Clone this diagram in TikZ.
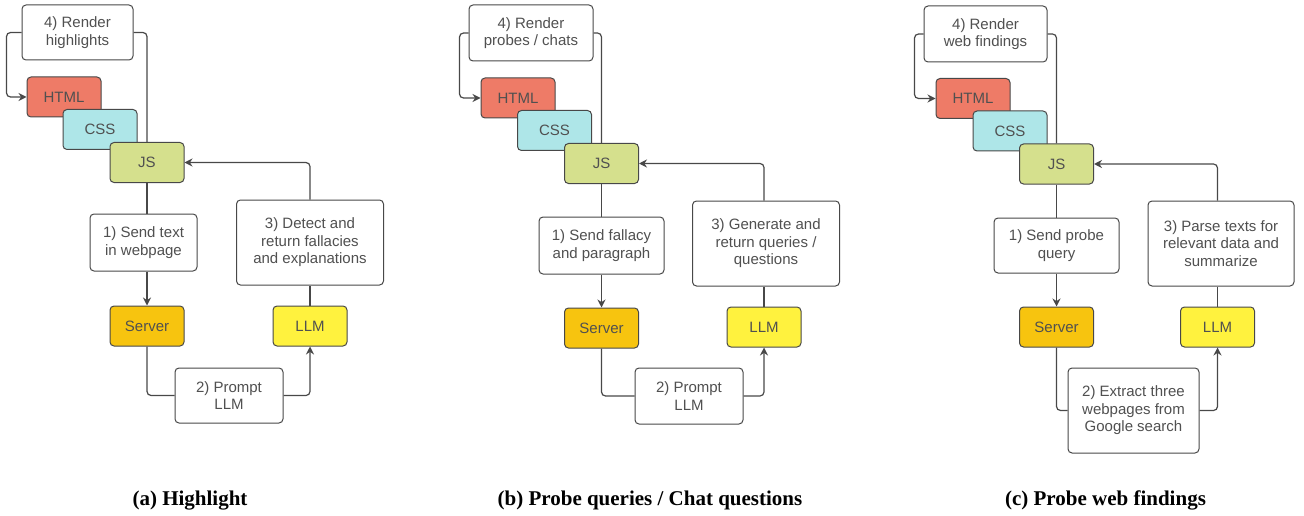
\documentclass[tikz,border=0pt]{standalone}
\usepackage{fontspec}
\setmainfont{Liberation Serif}
\newfontfamily\boxfont{Liberation Sans}
\usepackage{tikz}
\usepackage{xcolor}
\usetikzlibrary{arrows.meta, positioning}

\definecolor{htmlred}{HTML}{EE7B67}
\definecolor{cssblue}{HTML}{AEE6E8}
\definecolor{jsgreen}{HTML}{D5E08D}
\definecolor{serverorange}{HTML}{F7C40F}
\definecolor{llmyellow}{HTML}{FFF23E}
\definecolor{edgegray}{HTML}{484848}
\definecolor{textgray}{HTML}{505050}

\tikzset{
  box/.style={draw=edgegray, line width=1pt, rounded corners=4pt, fill=white, align=center, inner sep=0pt,
    font=\boxfont\fontsize{15}{17.5}\selectfont, text=textgray},
  tech/.style={box, minimum width=74pt, minimum height=40pt},
  link/.style={draw=edgegray, line width=1.2pt, rounded corners=4pt},
  arr/.style={link, -{Stealth[length=8pt, width=8pt]}},
  caption/.style={font=\fontsize{21}{25}\selectfont\bfseries, text=black, anchor=base}
}

\begin{document}
\begin{tikzpicture}[x=1pt, y=-1pt]
  \useasboundingbox (0,0) rectangle (1304,516);

  % (a) Highlight
  \node[box, minimum width=111pt, minimum height=55pt] (renderA) at (77.5, 32.5) {4) Render\\highlights};
  \node[tech, fill=htmlred] (htmlA) at (64, 97) {HTML};
  \node[tech, fill=cssblue] (cssA) at (100, 129.5) {CSS};
  \node[tech, fill=jsgreen] (jsA) at (147, 162.5) {JS};
  \node[box, minimum width=107pt, minimum height=57pt] (sendA) at (143.5, 242.5) {1) Send text\\in webpage};
  \node[tech, fill=serverorange] (serverA) at (147, 326) {Server};
  \node[box, minimum width=147pt, minimum height=85pt] (detectA) at (310, 242.5) {3) Detect and\\return fallacies\\and explanations};
  \node[tech, fill=llmyellow] (llmA) at (310, 326) {LLM};
  \node[box, minimum width=108pt, minimum height=55pt] (promptA) at (229, 395.5) {2) Prompt\\LLM};

  \draw[link] (jsA.north) |- (renderA.east);
  \draw[arr] (renderA.west) -- ++(-15,0) |- (htmlA.west);
  \draw[link] (jsA.south) -- (jsA.south |- sendA.north);
  \draw[arr] (sendA.south -| serverA.north) -- (serverA.north);
  \draw[link] (serverA.south) |- (promptA.west);
  \draw[arr] (promptA.east) -| (llmA.south);
  \draw[link] (llmA.north) -- (llmA.north |- detectA.south);
  \draw[arr] (detectA.north -| llmA.north) |- (jsA.east);

  % (b) Probe queries / Chat questions
  \node[box, minimum width=124pt, minimum height=56pt] (renderB) at (531, 33) {4) Render\\probes / chats};
  \node[tech, fill=htmlred] (htmlB) at (518, 98) {HTML};
  \node[tech, fill=cssblue] (cssB) at (554.5, 130.5) {CSS};
  \node[tech, fill=jsgreen] (jsB) at (601.5, 163.5) {JS};
  \node[box, minimum width=125pt, minimum height=57pt] (sendB) at (601.5, 245.5) {1) Send fallacy\\and paragraph};
  \node[tech, fill=serverorange] (serverB) at (601.5, 328) {Server};
  \node[box, minimum width=147pt, minimum height=85pt] (generateB) at (766, 243.5) {3) Generate and\\return queries /\\questions};
  \node[tech, fill=llmyellow] (llmB) at (764, 327) {LLM};
  \node[box, minimum width=108pt, minimum height=56pt] (promptB) at (689, 396) {2) Prompt\\LLM};

  \draw[link] (jsB.north) |- (renderB.east);
  \draw[arr] (renderB.west) -- ++(-9,0) |- (htmlB.west);
  \draw[link] (jsB.south) -- (jsB.south |- sendB.north);
  \draw[arr] (sendB.south -| serverB.north) -- (serverB.north);
  \draw[link] (serverB.south) |- (promptB.west);
  \draw[arr] (promptB.east) -| (llmB.south);
  \draw[link] (llmB.north) -- (llmB.north |- generateB.south);
  \draw[arr] (generateB.north -| llmB.north) |- (jsB.east);

  % (c) Probe web findings
  \node[box, minimum width=123pt, minimum height=56pt] (renderC) at (985.5, 34) {4) Render\\web findings};
  \node[tech, fill=htmlred] (htmlC) at (973, 98.5) {HTML};
  \node[tech, fill=cssblue] (cssC) at (1010, 131) {CSS};
  \node[tech, fill=jsgreen] (jsC) at (1056.5, 164) {JS};
  \node[box, minimum width=125pt, minimum height=55pt] (sendC) at (1056.5, 245.5) {1) Send probe\\query};
  \node[tech, fill=serverorange] (serverC) at (1056.5, 327) {Server};
  \node[box, minimum width=146pt, minimum height=85pt] (parseC) at (1221, 243.5) {3) Parse texts for\\relevant data and\\summarize};
  \node[tech, fill=llmyellow] (llmC) at (1217.5, 327) {LLM};
  \node[box, minimum width=131pt, minimum height=85pt] (extractC) at (1133.5, 410.5) {2) Extract three\\webpages from\\Google search};

  \draw[link] (jsC.north) |- (renderC.east);
  \draw[arr] (renderC.west) -- ++(-9,0) |- (htmlC.west);
  \draw[link] (jsC.south) -- (jsC.south |- sendC.north);
  \draw[arr] (sendC.south -| serverC.north) -- (serverC.north);
  \draw[link] (serverC.south) |- (extractC.west);
  \draw[arr] (extractC.east) -| (llmC.south);
  \draw[link] (llmC.north) -- (llmC.north |- parseC.south);
  \draw[arr] (parseC.north -| llmC.north) |- (jsC.east);

  % captions
  \node[caption] (capA) at (190, 505) {(a) Highlight};
  \node[caption] (capB) at (650, 505) {(b) Probe queries / Chat questions};
  \node[caption] (capC) at (1105.5, 505) {(c) Probe web findings};
\end{tikzpicture}
\end{document}
